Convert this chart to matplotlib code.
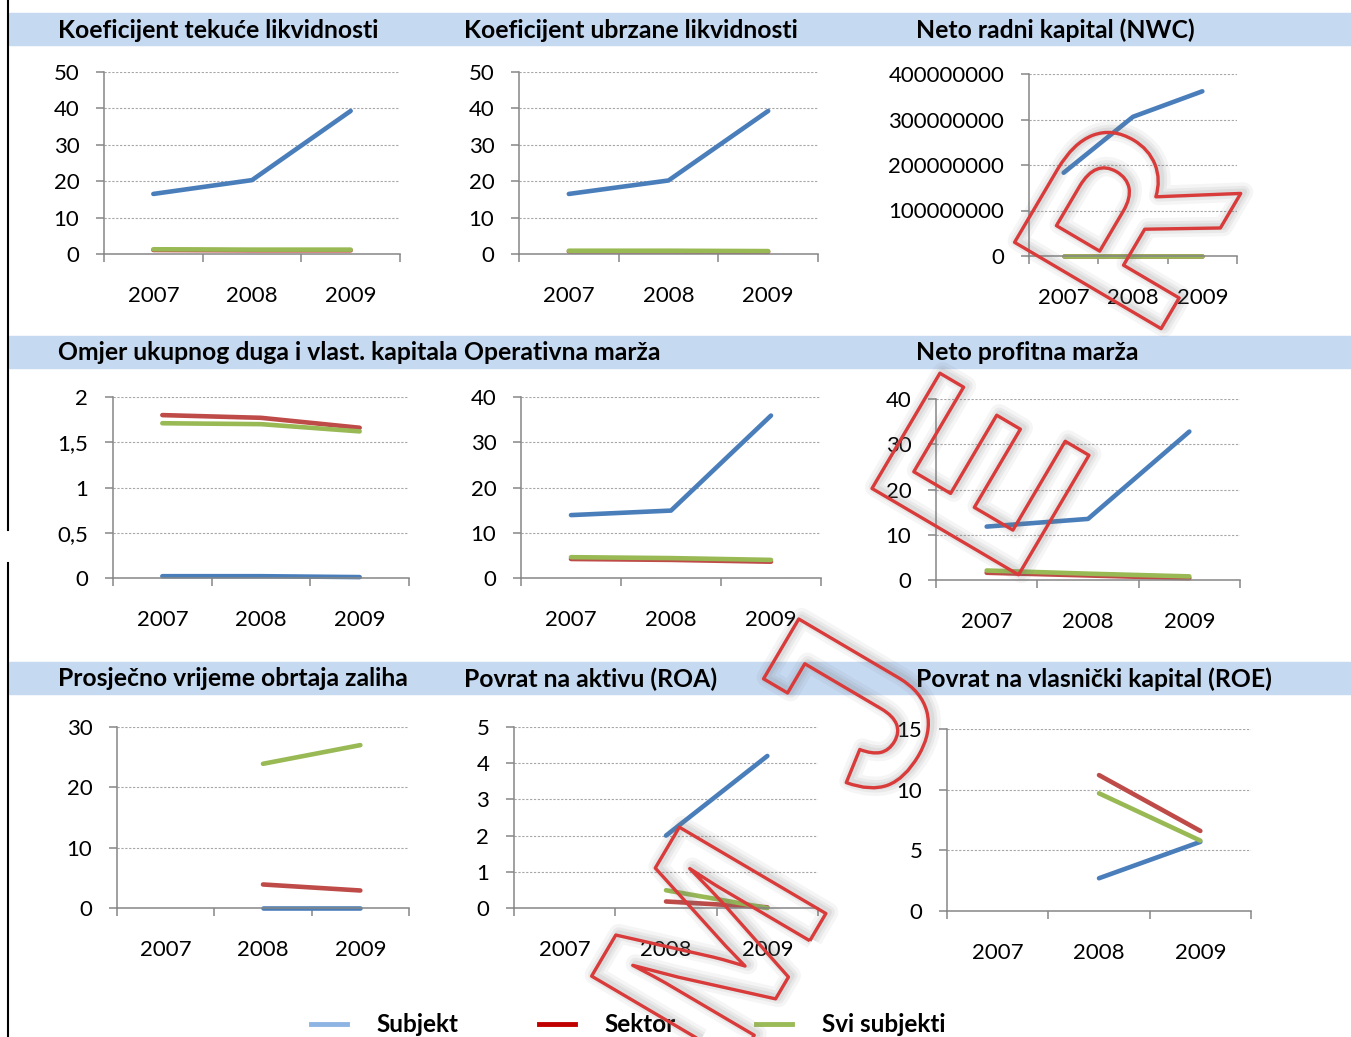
import numpy as np
import matplotlib
matplotlib.use('Agg')
import matplotlib.pyplot as plt
import matplotlib.patheffects as pe
from matplotlib.lines import Line2D
from matplotlib.patches import Rectangle
from matplotlib.transforms import Bbox, TransformedBbox
from matplotlib import font_manager

years = ['2007', '2008', '2009']
series_names = ['Subjekt', 'Sektor', 'Svi subjekti']

titles = [
    'Koeficijent tekuće likvidnosti',
    'Koeficijent ubrzane likvidnosti',
    'Neto radni kapital (NWC)',
    'Omjer ukupnog duga i vlast. kapitala',
    'Operativna marža',
    'Neto profitna marža',
    'Prosječno vrijeme obrtaja zaliha',
    'Povrat na aktivu (ROA)',
    'Povrat na vlasnički kapital (ROE)',
]

# Subjekt / Sektor / Svi subjekti for 2007, 2008, 2009
tekuca_subjekt = [16.5, 20.3, 39.3]
tekuca_sektor = [1.1, 1.0, 1.0]
tekuca_svi = [1.3, 1.2, 1.2]

ubrzana_subjekt = [16.5, 20.2, 39.3]
ubrzana_sektor = [0.7, 0.7, 0.6]
ubrzana_svi = [0.9, 0.9, 0.8]

nwc_subjekt = [183e6, 306e6, 362e6]
nwc_sektor = [0.5e6, 0.5e6, 0.5e6]
nwc_svi = [1.0e6, 1.0e6, 1.0e6]

omjer_subjekt = [0.02, 0.02, 0.01]
omjer_sektor = [1.80, 1.77, 1.66]
omjer_svi = [1.71, 1.70, 1.62]

oper_subjekt = [13.9, 14.9, 35.9]
oper_sektor = [4.2, 4.0, 3.6]
oper_svi = [4.6, 4.4, 4.0]

profit_subjekt = [11.8, 13.5, 32.8]
profit_sektor = [1.6, 1.0, 0.4]
profit_svi = [2.1, 1.4, 0.8]

zalihe_subjekt = [np.nan, 0.0, 0.0]
zalihe_sektor = [np.nan, 3.9, 2.9]
zalihe_svi = [np.nan, 23.9, 27.0]

roa_subjekt = [np.nan, 2.0, 4.2]
roa_sektor = [np.nan, 0.18, 0.02]
roa_svi = [np.nan, 0.49, 0.0]

roe_subjekt = [np.nan, 2.7, 5.7]
roe_sektor = [np.nan, 11.2, 6.6]
roe_svi = [np.nan, 9.7, 5.8]

panel_data = [
    (tekuca_subjekt, tekuca_sektor, tekuca_svi),
    (ubrzana_subjekt, ubrzana_sektor, ubrzana_svi),
    (nwc_subjekt, nwc_sektor, nwc_svi),
    (omjer_subjekt, omjer_sektor, omjer_svi),
    (oper_subjekt, oper_sektor, oper_svi),
    (profit_subjekt, profit_sektor, profit_svi),
    (zalihe_subjekt, zalihe_sektor, zalihe_svi),
    (roa_subjekt, roa_sektor, roa_svi),
    (roe_subjekt, roe_sektor, roe_svi),
]

# y axis max and step for each panel
y_max = [50, 50, 400e6, 2, 40, 40, 30, 5, 15]
y_step = [10, 10, 100e6, 0.5, 10, 10, 10, 1, 5]

line_colors = ['#4A7EBB', '#BE4B48', '#98B954']
legend_colors = ['#8EB4E3', '#C00000', '#9BBB59']

plt.rcParams['font.family'] = ['Lato', 'DejaVu Sans']

W, H = 1351, 1037
fig = plt.figure(figsize=(W / 100, H / 100), dpi=100)

# axes boxes in pixels: x0, x1, y_top, y_bottom
boxes = [
    (104, 400, 72, 254), (519, 818, 72, 254), (1029, 1237, 74, 256),
    (113, 409, 397, 578), (521, 821, 397, 578), (936, 1240, 399, 580),
    (117, 409, 727, 908), (514, 818, 727, 908), (947, 1251, 729, 911),
]
title_x = [58, 464, 916]
title_y = [30, 353, 679]
bands = [(13, 45), (336, 368), (662, 694)]
col_clip = [(9, 459), (459, 912), (912, W)]

for y0, y1 in bands:
    fig.patches.append(Rectangle((9 / W, 1 - y1 / H), 1 - 9 / W, (y1 - y0) / H,
                                 transform=fig.transFigure, color='#C5D9F1',
                                 zorder=0))

# left border line
for ya, yb in [(0, 530), (563, H)]:
    fig.lines.append(Line2D([8 / W, 8 / W], [1 - ya / H, 1 - yb / H],
                            transform=fig.transFigure, color='black', lw=1.5))


def fmt(v, pos):
    if abs(v - round(v)) < 1e-9:
        return str(int(round(v)))
    return f'{v:g}'.replace('.', ',')


x = np.array([0.5, 1.5, 2.5])
fontsize = 16
title_size = 17.8

for i, (x0, x1, yt, yb) in enumerate(boxes):
    ax = fig.add_axes([x0 / W, 1 - yb / H, (x1 - x0) / W, (yb - yt) / H])
    for vals, c in zip(panel_data[i], line_colors):
        ax.plot(x, vals, color=c, lw=3.3, solid_capstyle='round', clip_on=False)
    ax.set_xlim(0, 3)
    ax.set_ylim(0, y_max[i])
    ax.set_yticks(np.arange(0, y_max[i] + y_step[i] / 2, y_step[i]))
    ax.yaxis.set_major_formatter(plt.FuncFormatter(fmt))
    ax.set_xticks([0, 1, 2, 3])
    ax.set_xticklabels([])
    ax.set_xticks(x, minor=True)
    ax.set_xticklabels(years, minor=True)
    ax.tick_params(axis='x', which='major', direction='out', length=5.8,
                   width=1.1, color='#868686')
    ax.tick_params(axis='x', which='minor', length=0, pad=30, labelsize=fontsize)
    for lbl in ax.get_xticklabels(minor=True):
        lbl.set_va('center')
    ax.tick_params(axis='y', direction='out', length=5.8, width=1.1,
                   color='#868686', pad=12, labelsize=fontsize)
    ax.grid(axis='y', color='#A6A6A6', lw=0.8, ls=(0, (2, 1.5)))
    ax.set_axisbelow(True)
    for s in ['top', 'right']:
        ax.spines[s].set_visible(False)
    for s in ['left', 'bottom']:
        ax.spines[s].set_color('#868686')
        ax.spines[s].set_linewidth(1.1)
    ax.patch.set_alpha(0)

    r, c = divmod(i, 3)
    t = fig.text(title_x[c] / W, 1 - title_y[r] / H, titles[i],
                 fontsize=title_size, fontweight='bold', ha='left', va='center')
    cx0, cx1 = col_clip[c]
    t.set_clip_box(TransformedBbox(Bbox([[cx0 / W, 0], [cx1 / W, 1]]),
                                   fig.transFigure))
    t.set_clip_on(True)

handles = [Line2D([], [], color=c, lw=3.5) for c in legend_colors]
fig.legend(handles, series_names, loc='center',
           bbox_to_anchor=(628 / W, 1 - 1025 / H), ncol=3, frameon=False,
           prop={'weight': 'bold', 'size': 17.5}, handlelength=1.48,
           handletextpad=1.23, columnspacing=3.3)

# watermark
names = {f.name for f in font_manager.fontManager.ttflist}
wm_font = 'Liberation Sans Narrow' if 'Liberation Sans Narrow' in names else 'Liberation Sans'
wm_effects = [
    pe.Stroke(offset=(2, 1), linewidth=14, foreground=(0.45, 0.45, 0.45, 0.07)),
    pe.Stroke(offset=(2, 1), linewidth=9, foreground=(0.45, 0.45, 0.45, 0.09)),
    pe.Stroke(offset=(2, 1), linewidth=5, foreground=(0.45, 0.45, 0.45, 0.11)),
    pe.Stroke(linewidth=2.4, foreground='#D93A3A', joinstyle='round'),
]
wm_letters = ['M', 'J', 'E', 'R']
wm_pos = [(782, 988), (919, 750), (1052, 518), (1198, 266)]
for ch, (px, py) in zip(wm_letters, wm_pos):
    fig.text(px / W, 1 - py / H, ch, fontsize=178, fontfamily=wm_font,
             fontweight='bold', rotation=59.5, rotation_mode='anchor',
             ha='center', va='baseline', color=(1, 1, 1, 0),
             path_effects=wm_effects, zorder=10)

fig.savefig('out.png', dpi=100)
